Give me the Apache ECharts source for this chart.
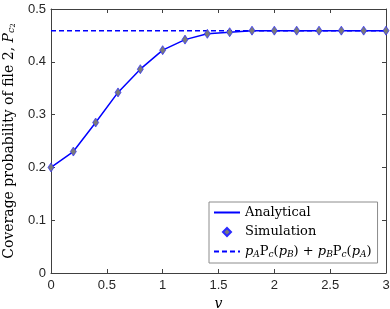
<!DOCTYPE html>
<html>
<head>
<meta charset="utf-8">
<script src="https://cdn.jsdelivr.net/npm/echarts@6/dist/echarts.min.js"></script>
<style>
html,body{margin:0;padding:0;background:#fff;}
#chart{width:390px;height:309px;}
</style>
</head>
<body>
<div id="chart"></div>
<script>
// ---- data ----
var vValues = [0, 0.2, 0.4, 0.6, 0.8, 1.0, 1.2, 1.4, 1.6, 1.8, 2.0, 2.2, 2.4, 2.6, 2.8, 3.0];
var analytical = [0.200, 0.230, 0.285, 0.342, 0.386, 0.422, 0.442, 0.453, 0.456, 0.459, 0.459, 0.459, 0.459, 0.459, 0.459, 0.459];
var simulation = [0.200, 0.230, 0.285, 0.342, 0.386, 0.422, 0.442, 0.453, 0.456, 0.459, 0.459, 0.459, 0.459, 0.459, 0.459, 0.459];
var boundX = [0, 3];
var boundY = [0.459, 0.459];
var xTicks = [0, 0.5, 1, 1.5, 2, 2.5, 3];
var yTicks = [0, 0.1, 0.2, 0.3, 0.4, 0.5];
var seriesNames = ['Analytical', 'Simulation', 'Bound'];

function pairs(xs, ys) { return xs.map(function (x, i) { return [x, ys[i]]; }); }

var serif = 'DejaVu Serif';
var sans = 'Liberation Sans';
var axisColor = '#404040';
var textColor = '#262626';

var richLegend = {
  t: { fontFamily: serif, fontSize: 13, color: '#000', lineHeight: 15 },
  i: { fontFamily: serif, fontStyle: 'italic', fontSize: 13, color: '#000', lineHeight: 15 },
  s: { fontFamily: serif, fontStyle: 'italic', fontSize: 9, color: '#000', lineHeight: 9, verticalAlign: 'bottom' }
};

var chart = echarts.init(document.getElementById('chart'), null, { renderer: 'canvas' });

function xAxisCfg(pos, show) {
  return {
    type: 'value', position: pos, min: 0, max: 3, interval: 0.5,
    axisLine: { show: true, onZero: false, lineStyle: { color: axisColor, width: 1 } },
    axisTick: { show: true, inside: true, length: 4, lineStyle: { color: axisColor } },
    splitLine: { show: false },
    axisLabel: {
      show: show, color: textColor, fontFamily: sans, fontSize: 13, margin: 6,
      formatter: function (v) { return xTicks.indexOf(v) >= 0 ? String(v) : ''; }
    }
  };
}
function yAxisCfg(pos, show) {
  return {
    type: 'value', position: pos, min: 0, max: 0.5, interval: 0.1,
    axisLine: { show: true, onZero: false, lineStyle: { color: axisColor, width: 1 } },
    axisTick: { show: true, inside: true, length: 4, lineStyle: { color: axisColor } },
    splitLine: { show: false },
    axisLabel: {
      show: show, color: textColor, fontFamily: sans, fontSize: 13, margin: 5,
      formatter: function (v) { return v === 0 ? '0' : v.toFixed(1); }
    }
  };
}

var xa0 = xAxisCfg('bottom', true);
xa0.name = 'v';
xa0.nameLocation = 'middle';
xa0.nameGap = 22;
xa0.nameTextStyle = { fontFamily: serif, fontStyle: 'italic', fontSize: 14, color: '#000' };
var xa1 = xAxisCfg('top', false);

var ya0 = yAxisCfg('left', true);
ya0.name = 'Coverage probability of file 2, {i|P}{s|c}{ss|2}';
ya0.nameLocation = 'middle';
ya0.nameGap = 32;
ya0.nameTextStyle = {
  fontFamily: serif, fontSize: 14, color: '#000', lineHeight: 16,
  rich: {
    i: { fontFamily: serif, fontStyle: 'italic', fontSize: 14, color: '#000', lineHeight: 16 },
    s: { fontFamily: serif, fontStyle: 'italic', fontSize: 9.5, color: '#000', lineHeight: 10, verticalAlign: 'bottom' },
    ss: { fontFamily: serif, fontSize: 7, color: '#000', lineHeight: 7, verticalAlign: 'bottom' }
  }
};
var ya1 = yAxisCfg('right', false);

var option = {
  animation: false,
  backgroundColor: '#ffffff',
  grid: { left: 51, right: 4, top: 9, bottom: 36, containLabel: false, outerBoundsMode: 'none' },
  xAxis: [xa0, xa1],
  yAxis: [ya0, ya1],
  legend: {
    orient: 'vertical', left: 209, top: 202,
    padding: [4, 6, 4, 4], itemGap: 6.5, itemWidth: 26, itemHeight: 10,
    backgroundColor: '#fff', borderColor: '#8c8c8c', borderWidth: 1, borderRadius: 0,
    data: [
      { name: seriesNames[0], itemStyle: { opacity: 0 } },
      { name: seriesNames[1] },
      { name: seriesNames[2], itemStyle: { opacity: 0 } }
    ],
    textStyle: { fontFamily: serif, fontSize: 13, color: '#000', rich: richLegend },
    formatter: function (name) {
      if (name === 'Bound') {
        return '{i|p}{s|A}{t|P}{s|c}{t|(}{i|p}{s|B}{t|) + }{i|p}{s|B}{t|P}{s|c}{t|(}{i|p}{s|A}{t|)}';
      }
      return '{t|' + name + '}';
    }
  },
  series: [
    {
      name: 'Analytical', type: 'line', xAxisIndex: 0, yAxisIndex: 0,
      data: pairs(vValues, analytical), symbol: 'none', z: 2,
      lineStyle: { color: '#0000ff', width: 1.5 }, itemStyle: { color: '#0000ff' }
    },
    {
      name: 'Simulation', type: 'line', xAxisIndex: 0, yAxisIndex: 0,
      data: pairs(vValues, simulation), symbol: 'diamond', symbolSize: [6, 9], showSymbol: true, z: 3,
      lineStyle: { width: 0, opacity: 0 },
      itemStyle: { color: '#7a7a7a', borderColor: '#2a2aff', borderWidth: 0.7 }
    },
    {
      name: 'Bound', type: 'line', xAxisIndex: 0, yAxisIndex: 0,
      data: pairs(boundX, boundY), symbol: 'none', z: 1,
      lineStyle: { color: '#0000ff', width: 1.5, type: [5, 3] }, itemStyle: { color: '#0000ff' }
    }
  ]
};
chart.setOption(option);
</script>
</body>
</html>
